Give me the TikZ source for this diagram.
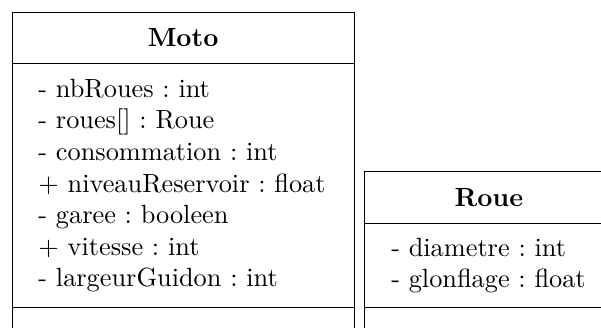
\documentclass[tikz,border=0pt]{standalone}
\usepackage{amsmath}
\usepackage{tikz}
\usetikzlibrary{positioning}

\begin{document}
\frenchspacing
\begin{tikzpicture}[
				classname/.style = {rectangle, draw, outer sep = 0pt, font = \bfseries, text centered, minimum height = 19.6pt},
				classattr/.style = {rectangle, draw, outer sep = 0pt, align = left, inner xsep = 10pt, text width = #1},
				classops/.style = {rectangle, draw, outer sep = 0pt, minimum height = 12pt, minimum width = #1},
			]
			\useasboundingbox (0pt,0pt) rectangle (228.4pt,-124.3pt);

			% class Moto
			\node[classname, minimum width = 130pt, anchor = north west](Moto) at (4.6pt,-4.6pt){Moto};
			\node[classattr = 110pt, minimum height = 92.7pt, below = 0pt of Moto](MotoAttr){- nbRoues : int\\
				- roues[] : Roue\\
				- consommation : int\\
				$+$ niveauReservoir : float\\
				- garee : booleen\\
				$+$ vitesse : int\\
				- largeurGuidon : int};
			\node[classops = 130pt, below = 0pt of MotoAttr](MotoOps){};

			% class Roue
			\node[classname, minimum width = 94.2pt, anchor = north west](Roue) at (138.7pt,-65.2pt){Roue};
			\node[classattr = 74.2pt, minimum height = 32.1pt, below = 0pt of Roue](RoueAttr){- diametre : int\\
				- glonflage : float};
			\node[classops = 94.2pt, below = 0pt of RoueAttr](RoueOps){};

		\end{tikzpicture}
\end{document}
